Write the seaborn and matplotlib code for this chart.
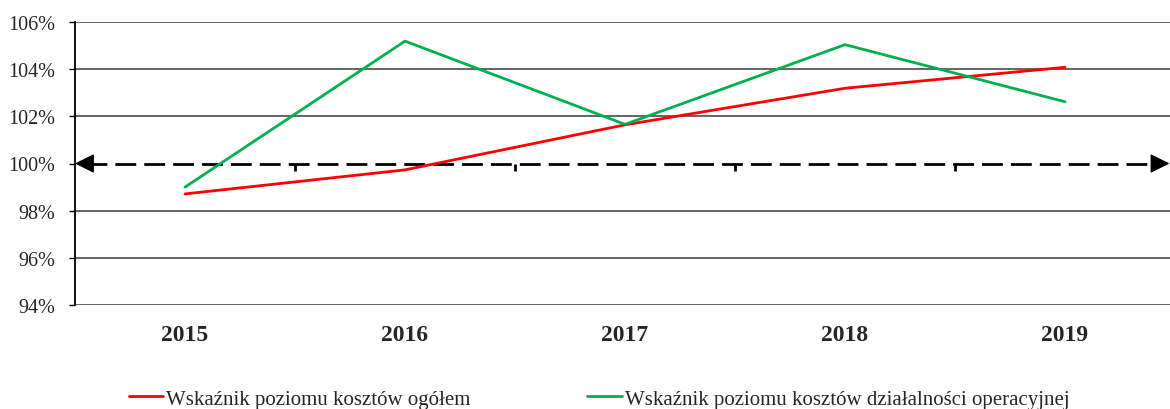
import numpy as np
import pandas as pd
import matplotlib
matplotlib.use("Agg")
import matplotlib.pyplot as plt
import seaborn as sns

# data (values in %)
years = ["2015", "2016", "2017", "2018", "2019"]
koszty_ogolem = [98.71, 99.73, 101.64, 103.19, 104.08]
koszty_operacyjne = [99.0, 105.19, 101.66, 105.04, 102.62]
series_names = ["Wskaźnik poziomu kosztów ogółem",
                "Wskaźnik poziomu kosztów działalności operacyjnej"]
y_ticks = [94, 96, 98, 100, 102, 104, 106]
baseline = 100

df = pd.DataFrame({
    "rok": years * 2,
    "wartosc": koszty_ogolem + koszty_operacyjne,
    "seria": [series_names[0]] * len(years) + [series_names[1]] * len(years),
})

sns.set_style("white")
plt.rcParams["font.family"] = ["Liberation Serif", "DejaVu Serif"]

fig = plt.figure(figsize=(11.7, 4.1), dpi=100)
ax = fig.add_axes([75 / 1170, 1 - 306 / 410, (1175 - 75) / 1170, (306 - 23) / 410])

# horizontal grid lines (the 100% one is replaced by the dashed axis)
for level in y_ticks:
    if level != baseline:
        ax.axhline(level, color="#3a3a3a", lw=1.1, zorder=1)

# dashed 100% axis with solid arrow heads at both ends
x_left, x_right = -0.5, len(years) - 0.5 - 0.025
ax.plot([x_left + 0.05, x_right - 0.05], [baseline, baseline], color="black",
        lw=2, linestyle=(0, (7.5, 2.9)), zorder=2, clip_on=False)
for tip, off in [(x_left, 18), (x_right, -18)]:
    ax.annotate("", xy=(tip, baseline), xytext=(off, 0),
                textcoords="offset pixels",
                arrowprops=dict(arrowstyle="-|>", color="black", lw=1,
                                mutation_scale=30, shrinkA=0, shrinkB=0),
                annotation_clip=False, zorder=2)

# small separators between categories on the 100% axis
sep = np.arange(len(years) - 1) + 0.5
ax.vlines(sep, baseline - 0.3, baseline, color="black", lw=2, zorder=2)

sns.lineplot(data=df, x="rok", y="wartosc", hue="seria",
             palette=["#ff0000", "#00b050"], linewidth=2, ax=ax,
             legend=False, zorder=3, sort=False)

ax.set_xlim(-0.5, len(years) - 0.5)
ax.set_ylim(y_ticks[0], y_ticks[-1])
ax.set_yticks(y_ticks)
ax.set_yticklabels([f"{t}%" for t in y_ticks], fontsize=14.5)
ax.set_xticks(range(len(years)))
ax.set_xticklabels(years, fontsize=17, fontweight="bold")
ax.tick_params(axis="x", length=0, pad=14)
ax.tick_params(axis="y", length=4, width=1, color="black", pad=10, left=True)
ax.set_xlabel("")
ax.set_ylabel("")

for s in ["top", "right", "bottom"]:
    ax.spines[s].set_visible(False)
ax.spines["left"].set_color("black")
ax.spines["left"].set_linewidth(1.3)

handles = [plt.Line2D([], [], color="#ff0000", lw=2),
           plt.Line2D([], [], color="#00b050", lw=2)]
fig.legend(handles, series_names, loc="center", ncol=2,
           bbox_to_anchor=(0.512, 1 - 400 / 410), frameon=False,
           fontsize=15, handlelength=1.65, handletextpad=0.15,
           columnspacing=5.6)

fig.savefig("out.png", dpi=100)
